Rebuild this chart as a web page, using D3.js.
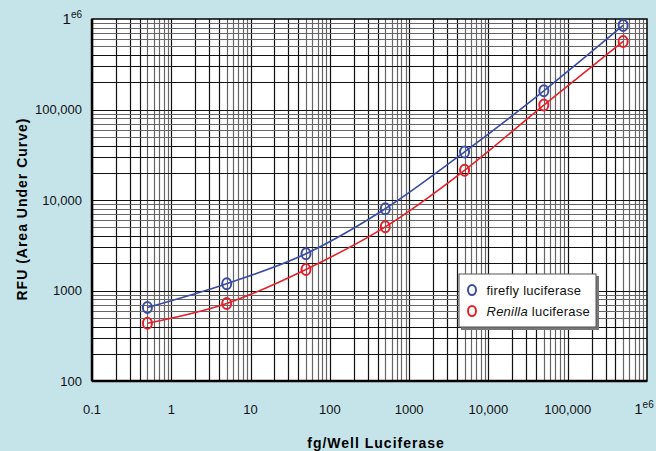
<!DOCTYPE html>
<html>
<head>
<meta charset="utf-8">
<script src="https://cdn.jsdelivr.net/npm/d3@7"></script>
<style>
  body { margin: 0; background: #c5e4ea; }
  svg { display: block; font-family: "Liberation Sans", Arial, Helvetica, sans-serif; }
</style>
</head>
<body>
<svg id="chart"></svg>
<script>
// data
var doses = [0.5, 5, 50, 500, 5000, 50000, 500000];
var firefly = [650, 1190, 2550, 8000, 34000, 161000, 850000];
var renilla = [435, 720, 1710, 5050, 21300, 112000, 565000];
var xTicks = [0.1, 1, 10, 100, 1000, 10000, 100000, 1000000];
var xTickLabels = ['0.1', '1', '10', '100', '1000', '10,000', '100,000', '1e6'];
var yTicks = [100, 1000, 10000, 100000, 1000000];
var yTickLabels = ['100', '1000', '10,000', '100,000', '1e6'];
var seriesNames = ['firefly luciferase', 'Renilla luciferase'];

var width = 656;
var height = 451;
var margin = {top: 19, right: 9, bottom: 70, left: 92};

var svg = d3.select('#chart')
  .attr('width', width)
  .attr('height', height);

var x = d3.scaleLog().domain([0.1, 1e6]).range([margin.left, width - margin.right]);
var y = d3.scaleLog().domain([100, 1e6]).range([height - margin.bottom, margin.top]);

// plot background
svg.append('rect')
  .attr('x', x.range()[0])
  .attr('y', y.range()[1])
  .attr('width', x.range()[1] - x.range()[0])
  .attr('height', y.range()[0] - y.range()[1])
  .style('fill', '#fff');

// log grid: every 1..9 multiple of each decade
function minorValues(lo, hi) {
  var vals = [];
  for (var p = Math.log10(lo); p < Math.log10(hi); p++) {
    for (var m = 1; m <= 9; m++) {
      vals.push(m * Math.pow(10, p));
    }
  }
  return vals;
}

var grid = svg.append('g').attr('class', 'grid');

grid.selectAll('line.vx')
  .data(minorValues(0.1, 1e6))
  .enter()
  .append('line')
    .attr('x1', function(d) { return Math.round(x(d)) + 0.5; })
    .attr('x2', function(d) { return Math.round(x(d)) + 0.5; })
    .attr('y1', y.range()[1])
    .attr('y2', y.range()[0])
    .style('stroke', function(d, i) { return (i % 9) < 4 ? '#111' : '#666'; })
    .style('stroke-width', 1.2);

grid.selectAll('line.hy')
  .data(minorValues(100, 1e6))
  .enter()
  .append('line')
    .attr('y1', function(d) { return Math.round(y(d)) + 0.5; })
    .attr('y2', function(d) { return Math.round(y(d)) + 0.5; })
    .attr('x1', x.range()[0])
    .attr('x2', x.range()[1])
    .style('stroke', function(d, i) { return (i % 9) < 4 ? '#111' : '#666'; })
    .style('stroke-width', 1.2);

// frame
svg.append('rect')
  .attr('x', x.range()[0])
  .attr('y', y.range()[1])
  .attr('width', x.range()[1] - x.range()[0])
  .attr('height', y.range()[0] - y.range()[1])
  .style('fill', 'none')
  .style('stroke', '#000')
  .style('stroke-width', 1.5);
svg.append('line')
  .attr('x1', x.range()[0]).attr('x2', x.range()[0])
  .attr('y1', y.range()[1]).attr('y2', y.range()[0])
  .style('stroke', '#000').style('stroke-width', 2.5);
svg.append('line')
  .attr('x1', x.range()[0]).attr('x2', x.range()[1])
  .attr('y1', y.range()[0]).attr('y2', y.range()[0])
  .style('stroke', '#000').style('stroke-width', 2.5);

// tick labels (1e6 drawn with superscript)
function writeLabel(sel, label) {
  if (label === '1e6') {
    sel.append('tspan').text('1');
    sel.append('tspan').attr('dy', -6).style('font-size', '10px').text('e6');
  } else {
    sel.text(label);
  }
}

var yAxis = svg.append('g');
yTicks.forEach(function(t, i) {
  var txt = yAxis.append('text')
    .attr('x', 82)
    .attr('y', y(t) + (i === 4 ? 5 : 4.5))
    .attr('text-anchor', 'end')
    .style('font-size', i === 4 ? '15px' : '13px')
    .style('fill', '#111');
  writeLabel(txt, yTickLabels[i]);
});

var xAxis = svg.append('g');
xTicks.forEach(function(t, i) {
  var txt = xAxis.append('text')
    .attr('x', x(t) + (i === 7 ? -3 : 0))
    .attr('y', 414)
    .attr('text-anchor', 'middle')
    .style('font-size', i === 7 ? '15px' : '13px')
    .style('fill', '#111');
  writeLabel(txt, xTickLabels[i]);
});

// axis titles
svg.append('text')
  .attr('x', 376)
  .attr('y', 448)
  .attr('text-anchor', 'middle')
  .style('font-size', '14px')
  .style('letter-spacing', '1px')
  .style('font-weight', 'bold')
  .text('fg/Well Luciferase');

svg.append('text')
  .attr('transform', 'translate(26.5,209) rotate(-90)')
  .attr('text-anchor', 'middle')
  .style('font-size', '14px')
  .style('letter-spacing', '1px')
  .style('font-weight', 'bold')
  .text('RFU (Area Under Curve)');

// series
var series = [
  {name: seriesNames[0], values: firefly, color: '#3a4da3'},
  {name: seriesNames[1], values: renilla, color: '#e5202a'}
];

var line = d3.line()
  .x(function(d) { return x(d[0]); })
  .y(function(d) { return y(d[1]); })
  .curve(d3.curveMonotoneX);

series.forEach(function(s) {
  var pts = doses.map(function(d, i) { return [d, s.values[i]]; });
  svg.append('path')
    .datum(pts)
    .attr('d', line)
    .style('fill', 'none')
    .style('stroke', s.color)
    .style('stroke-width', 1.6);
  svg.selectAll(null)
    .data(pts)
    .enter()
    .append('ellipse')
      .attr('cx', function(d) { return x(d[0]); })
      .attr('cy', function(d) { return y(d[1]); })
      .attr('rx', 4.5)
      .attr('ry', 5.5)
      .style('fill', 'none')
      .style('stroke', s.color)
      .style('stroke-width', 2);
});

// legend
var legend = svg.append('g').attr('transform', 'translate(459,274)');
legend.append('rect')
  .attr('x', 2).attr('y', 2)
  .attr('width', 138).attr('height', 54)
  .style('fill', '#777');
legend.append('rect')
  .attr('width', 137).attr('height', 53)
  .style('fill', '#fff')
  .style('stroke', '#555')
  .style('stroke-width', 1);

series.forEach(function(s, i) {
  var row = legend.append('g').attr('transform', 'translate(0,' + (16 + i * 21) + ')');
  row.append('ellipse')
    .attr('cx', 13).attr('cy', 0)
    .attr('rx', 4).attr('ry', 5)
    .style('fill', 'none')
    .style('stroke', s.color)
    .style('stroke-width', 2);
  var txt = row.append('text')
    .attr('x', 27.5).attr('y', 4.5)
    .style('font-size', '13px')
    .style('letter-spacing', '0.25px')
    .style('fill', '#111');
  if (i === 1) {
    txt.append('tspan').style('font-style', 'italic').text('Renilla');
    txt.append('tspan').text(' luciferase');
  } else {
    txt.text(s.name);
  }
});
</script>
</body>
</html>
